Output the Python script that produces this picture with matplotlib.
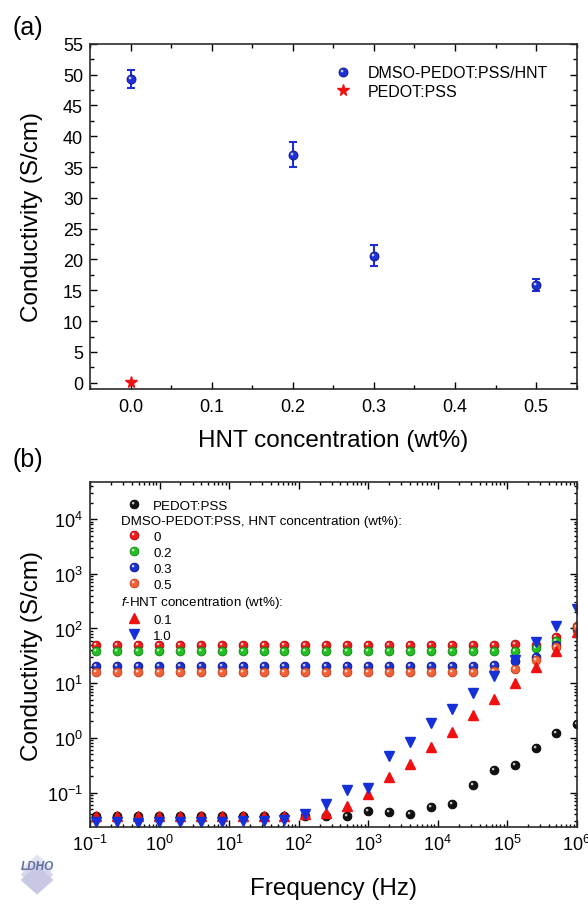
import numpy as np
import matplotlib
matplotlib.use("Agg")
import matplotlib.pyplot as plt
from matplotlib.lines import Line2D
from matplotlib.path import Path
from matplotlib.patches import Polygon

plt.rcParams['font.family'] = ['Liberation Sans', 'DejaVu Sans']
plt.rcParams['mathtext.fontset'] = 'custom'
plt.rcParams['mathtext.rm'] = 'Liberation Sans'
plt.rcParams['mathtext.it'] = 'Liberation Sans:italic'
plt.rcParams['mathtext.bf'] = 'Liberation Sans:bold'
plt.rcParams['xtick.direction'] = 'in'
plt.rcParams['ytick.direction'] = 'in'
plt.rcParams['axes.edgecolor'] = '#2b2b2b'

# (a) conductivity vs HNT loading
hnt = [0.0, 0.2, 0.3, 0.5]
sigma = [49.3, 37.0, 20.6, 15.9]
sigma_err = [1.45, 2.0, 1.7, 1.0]
pedot_x = [0.0]
pedot_y = [0.1]

# (b) conductivity vs frequency
freq = [0.122, 0.244, 0.488, 0.977, 1.95, 3.91, 7.81, 15.6, 31.3, 62.5,
        125, 250, 500, 1000, 2000, 4000, 8000, 16000, 32000, 64000,
        128000, 256000, 512000, 1024000]
pedot_pss = [0.038, 0.038, 0.038, 0.038, 0.038, 0.038, 0.038, 0.038, 0.038, 0.038,
             0.037, 0.037, 0.037, 0.046, 0.045, 0.041, 0.054, 0.063, 0.138, 0.258,
             0.32, 0.667, 1.21, 1.8]
dmso_00 = [50.5, 50.5, 50.5, 50.5, 50.5, 50.5, 50.5, 50.5, 50.5, 50.5,
           50.5, 50.5, 50.5, 50.5, 50.5, 50.5, 50.5, 50.5, 50.5, 50.5,
           52, 50, 70, 110]
dmso_02 = [38, 38, 38, 38, 38, 38, 38, 38, 38, 38,
           38, 38, 38, 38, 38, 38, 38, 38, 38, 38,
           39, 44, 60, 95]
dmso_03 = [20.8, 20.8, 20.8, 20.8, 20.8, 20.8, 20.8, 20.8, 20.8, 20.8,
           20.8, 20.8, 20.8, 20.8, 20.8, 20.8, 20.8, 20.8, 20.8, 21.5,
           25, 30, 50, 100]
dmso_05 = [16.3, 16.3, 16.3, 16.3, 16.3, 16.3, 16.3, 16.3, 16.3, 16.3,
           16.3, 16.3, 16.3, 16.3, 16.3, 16.3, 16.3, 16.3, 16.3, 17,
           18.5, 27, 45, 105]
fhnt_01 = [0.038, 0.038, 0.038, 0.038, 0.038, 0.038, 0.038, 0.038, 0.038, 0.038,
           0.040, 0.043, 0.058, 0.096, 0.19, 0.33, 0.68, 1.31, 2.6, 5.2,
           10.2, 20.2, 39, 87]
fhnt_10 = [0.029, 0.029, 0.028, 0.029, 0.029, 0.029, 0.029, 0.030, 0.030, 0.031,
           0.041, 0.063, 0.113, 0.12, 0.47, 0.85, 1.87, 3.34, 6.5, 13.6,
           26.8, 56, 110, 224]

# petit reflet blanc pour faire des "boules" facon Origin
c = Path.circle((-0.32, 0.32), 0.3)
hl_path = Path(np.vstack([c.vertices, [[1, 1], [-1, -1]]]),
               np.concatenate([c.codes, [Path.MOVETO, Path.MOVETO]]))


def sphere(ax, x, y, color, edge, ms, label=None):
    m, = ax.plot(x, y, 'o', ms=ms, mfc=color, mec=edge, mew=0.6, ls='none', label=label)
    h, = ax.plot(x, y, marker=hl_path, ms=ms, mfc='white', mec='none', alpha=0.75, ls='none')
    return (m, h)


fig = plt.figure(figsize=(5.88, 9.12), dpi=100)
ax1 = fig.add_axes([0.1531, 0.5724, 0.8277, 0.3786])
ax2 = fig.add_axes([0.1531, 0.0918, 0.8277, 0.3783])

# ---- (a)
blue = '#1f2fd8'
ax1.errorbar(hnt, sigma, yerr=sigma_err, fmt='none', ecolor=blue, elinewidth=1.5, capsize=3, capthick=1.5)
h_dmso = sphere(ax1, hnt, sigma, blue, '#0a1580', 6.5)
h_star, = ax1.plot(pedot_x, pedot_y, '*', ms=8.5, color='#f01010', mec='#f01010', ls='none')
ax1.set_xlim(-0.05, 0.55)
ax1.set_ylim(-1, 55)
ax1.set_xticks([0.0, 0.1, 0.2, 0.3, 0.4, 0.5])
ax1.set_xticks(np.arange(-0.05, 0.56, 0.05), minor=True)
ax1.set_yticks(range(0, 56, 5))
ax1.set_yticks(np.arange(0, 55.1, 2.5), minor=True)
ax1.xaxis.set_major_formatter(matplotlib.ticker.FormatStrFormatter('%.1f'))
ax1.tick_params(which='both', top=True, right=True, labelsize=13, width=1, pad=5)
ax1.tick_params(axis='x', which='both', pad=6.5)
ax1.tick_params(which='major', length=5)
ax1.tick_params(which='minor', length=3)
ax1.set_xlabel('HNT concentration (wt%)', fontsize=17.5)
ax1.set_ylabel('Conductivity (S/cm)', fontsize=17.5)
ax1.xaxis.set_label_coords(0.5, -0.115)
ax1.yaxis.set_label_coords(-0.097, 0.5)
ax1.legend([h_dmso, h_star], ['DMSO-PEDOT:PSS/HNT', 'PEDOT:PSS'], loc='upper left',
           bbox_to_anchor=(0.5, 0.937), frameon=False, fontsize=11.5, handlelength=1.2,
           handletextpad=0.98, labelspacing=0.2, borderpad=0, borderaxespad=0)
for s in ax1.spines.values():
    s.set_linewidth(1.2)

# ---- (b)
h_pe = sphere(ax2, freq, pedot_pss, '#111111', '#000000', 6.3)
h0 = sphere(ax2, freq, dmso_00, '#ee1c1c', '#b00000', 6.3)
h2 = sphere(ax2, freq, dmso_02, '#22c022', '#0d800d', 6.3)
h3 = sphere(ax2, freq, dmso_03, '#1c2fd0', '#0a1580', 6.3)
h5 = sphere(ax2, freq, dmso_05, '#f26238', '#c03a18', 6.3)
h_up, = ax2.plot(freq, fhnt_01, '^', ms=6.5, color='#f01010', mec='#f01010', ls='none')
h_dn, = ax2.plot(freq, fhnt_10, 'v', ms=6.5, color='#1530d8', mec='#1530d8', ls='none')
ax2.set_xscale('log')
ax2.set_yscale('log')
ax2.set_xlim(1e-1, 1e6)
ax2.set_ylim(0.0233, 4.7e4)
ax2.xaxis.set_major_locator(matplotlib.ticker.LogLocator(base=10, numticks=20))
ax2.xaxis.set_minor_locator(matplotlib.ticker.LogLocator(base=10, subs=np.arange(2, 10), numticks=20))
ax2.yaxis.set_major_locator(matplotlib.ticker.LogLocator(base=10, numticks=20))
ax2.yaxis.set_minor_locator(matplotlib.ticker.LogLocator(base=10, subs=np.arange(2, 10), numticks=20))
ax2.yaxis.set_minor_formatter(matplotlib.ticker.NullFormatter())
ax2.xaxis.set_minor_formatter(matplotlib.ticker.NullFormatter())
ax2.tick_params(which='both', top=True, right=True, labelsize=13, width=1, pad=5)
ax2.tick_params(which='major', length=5)
ax2.tick_params(which='minor', length=2.5)
ax2.set_xlabel('Frequency (Hz)', fontsize=17.5)
ax2.set_ylabel('Conductivity (S/cm)', fontsize=17.5)
ax2.xaxis.set_label_coords(0.5, -0.145)
ax2.yaxis.set_label_coords(-0.097, 0.5)
for s in ax2.spines.values():
    s.set_linewidth(1.2)

blank = Line2D([], [], ls='none')
handles = [h_pe, blank, h0, h2, h3, h5, blank, h_up, h_dn]
labels = ['PEDOT:PSS', 'DMSO-PEDOT:PSS, HNT concentration (wt%):', '0', '0.2', '0.3', '0.5',
          '$f$-HNT concentration (wt%):', '0.1', '1.0']
leg = ax2.legend(handles, labels, loc='upper left', bbox_to_anchor=(0.0744, 0.951),
                 frameon=False, fontsize=9.6, handlelength=1.2, handletextpad=0.83,
                 labelspacing=0.26, borderpad=0, borderaxespad=0)
# les titres de groupe sont decales vers la gauche
for i in (1, 6):
    leg.get_texts()[i].set_position((-32.6, 0))

fig.text(0.022, 0.969, '(a)', fontsize=18, va='center', ha='left')
fig.text(0.022, 0.496, '(b)', fontsize=18, va='center', ha='left')

# logo en bas a gauche
for k, col in enumerate(['#e4e4f2', '#d6d6ec', '#c8c8e4']):
    dy = -0.006 * k
    fig.patches.append(Polygon([[0.035, 0.046 + dy], [0.063, 0.062 + dy], [0.091, 0.046 + dy], [0.063, 0.030 + dy]],
                               closed=True, transform=fig.transFigure, fc=col, ec='none', zorder=0))
fig.text(0.063, 0.049, 'LDHO', fontsize=8.5, style='italic', weight='bold', color='#6070a0',
         ha='center', va='center')

fig.savefig('out.png', dpi=100)
